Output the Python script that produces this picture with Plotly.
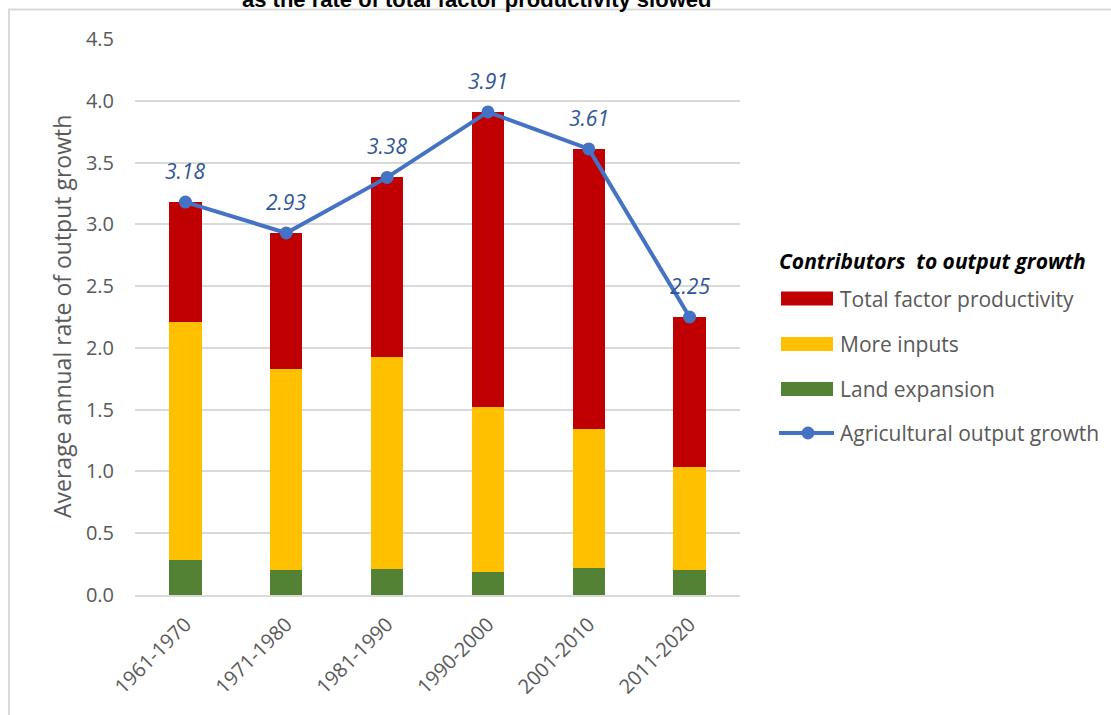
import plotly.graph_objects as go

# Decades and the decomposition of agricultural output growth (% per year)
periods = ["1961-1970", "1971-1980", "1981-1990", "1990-2000", "2001-2010", "2011-2020"]
land_expansion = [0.28, 0.20, 0.21, 0.19, 0.22, 0.20]
more_inputs = [1.93, 1.63, 1.72, 1.33, 1.12, 0.84]
tfp = [0.97, 1.10, 1.45, 2.39, 2.27, 1.21]
output_growth = [3.18, 2.93, 3.38, 3.91, 3.61, 2.25]

series_names = ["Total factor productivity", "More inputs", "Land expansion", "Agricultural output growth"]
legend_title = "Contributors  to output growth"
title_text = "as the rate of total factor productivity slowed"
y_title = "Average annual rate of output growth"

RED, YELLOW, GREEN, BLUE = "#C00000", "#FFC000", "#548235", "#4472C4"
LABEL_BLUE = "#2F5597"
GREY_TEXT = "#595959"
GRID = "#D9D9D9"
FONT = "Open Sans"

W, H = 1111, 715
L, R, T, B = 135, 371, 39, 120  # plot area margins in px
PW, PH = W - L - R, H - T - B


def px(x):
    return (x - L) / PW


def py(y):
    return (H - B - y) / PH


fig = go.Figure()
bar_w = 0.32
for vals, col, name in [(land_expansion, GREEN, series_names[2]),
                        (more_inputs, YELLOW, series_names[1]),
                        (tfp, RED, series_names[0])]:
    fig.add_trace(go.Bar(x=periods, y=vals, name=name, marker_color=col,
                         marker_line_width=0, width=bar_w, showlegend=False))

fig.add_trace(go.Scatter(x=periods, y=output_growth, mode="lines+markers",
                         name=series_names[3],
                         line=dict(color=BLUE, width=4),
                         marker=dict(color=BLUE, size=13),
                         showlegend=False))

# italic value labels above the line points
for p, v in zip(periods, output_growth):
    fig.add_annotation(x=p, y=v, text=f"<i>{v:.2f}</i>", showarrow=False,
                       yshift=31, font=dict(family=FONT, size=21, color=LABEL_BLUE),
                       xanchor="center", yanchor="middle")

shapes = []
annos = []

# custom legend
annos.append(dict(xref="paper", yref="paper", x=px(777), y=py(261), xanchor="left",
                  yanchor="middle", showarrow=False,
                  text=f"<b><i>{legend_title}</i></b>",
                  font=dict(family=FONT, size=21, color="black")))
item_y = [298.5, 344, 389, 433]
for i, (name, col) in enumerate(zip(series_names, [RED, YELLOW, GREEN, None])):
    yc = item_y[i]
    if col is not None:
        shapes.append(dict(type="rect", xref="paper", yref="paper",
                           x0=px(781), x1=px(833), y0=py(yc + 7), y1=py(yc - 7),
                           fillcolor=col, line=dict(width=0)))
    else:
        shapes.append(dict(type="line", xref="paper", yref="paper",
                           x0=px(779), x1=px(834), y0=py(yc), y1=py(yc),
                           line=dict(color=BLUE, width=4)))
        shapes.append(dict(type="circle", xref="paper", yref="paper",
                           x0=px(801.5), x1=px(814.5), y0=py(yc + 6.5), y1=py(yc - 6.5),
                           fillcolor=BLUE, line=dict(width=0)))
    annos.append(dict(xref="paper", yref="paper", x=px(838), y=py(yc), xanchor="left",
                      yanchor="middle", showarrow=False, text=name,
                      font=dict(family=FONT, size=21, color=GREY_TEXT)))

# title line, running off the top edge
annos.append(dict(xref="paper", yref="paper", x=px(476), y=py(14), xanchor="center",
                  yanchor="bottom", showarrow=False, text=f"<b>{title_text}</b>",
                  font=dict(family="Liberation Sans, Arial", size=22, color="black")))

# chart frame
shapes.append(dict(type="line", xref="paper", yref="paper", x0=px(8), x1=px(1111),
                   y0=py(9.5), y1=py(9.5), line=dict(color=GRID, width=2)))
shapes.append(dict(type="line", xref="paper", yref="paper", x0=px(9), x1=px(9),
                   y0=py(9.5), y1=py(715), line=dict(color=GRID, width=2)))

# y-axis title
annos.append(dict(xref="paper", yref="paper", x=px(62), y=py(317), xanchor="center",
                  yanchor="middle", showarrow=False, text=y_title, textangle=-90,
                  font=dict(family=FONT, size=23, color=GREY_TEXT)))

for a in annos:
    fig.add_annotation(**a)

fig.update_layout(
    width=W, height=H,
    margin=dict(l=L, r=R, t=T, b=B),
    barmode="stack",
    plot_bgcolor="white", paper_bgcolor="white",
    shapes=shapes,
    showlegend=False,
    xaxis=dict(type="category", showline=True, linecolor=GRID, linewidth=1.5,
               tickangle=-45, ticks="", showgrid=False, ticklabelstandoff=8,
               tickfont=dict(family=FONT, size=20, color=GREY_TEXT)),
    yaxis=dict(range=[0, 4.5], dtick=0.5, tickformat=".1f", showgrid=True,
               gridcolor=GRID, gridwidth=1.5, zeroline=False, showline=False,
               ticks="", ticklabelstandoff=20,
               tickfont=dict(family=FONT, size=20, color=GREY_TEXT)),
)

fig.write_html("out.html")
